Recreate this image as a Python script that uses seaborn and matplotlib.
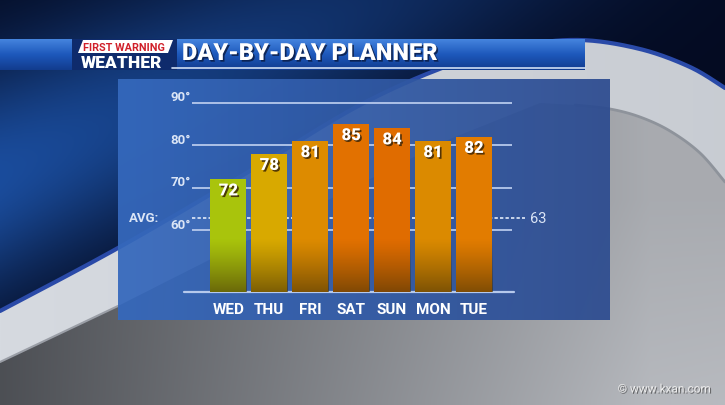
import numpy as np
import pandas as pd
import matplotlib
matplotlib.use("Agg")
import matplotlib.pyplot as plt
import seaborn as sns
from matplotlib.patches import Polygon, Rectangle
from matplotlib.colors import to_rgb
import matplotlib.patheffects as pe
import matplotlib.transforms as mtransforms

# ---------------- data ----------------
days = ["WED", "THU", "FRI", "SAT", "SUN", "MON", "TUE"]
highs = [72, 78, 81, 85, 84, 81, 82]
bar_colors = ["#a9c40c", "#d8a900", "#dd8b00", "#e27100", "#e06c00", "#db8a00", "#e27c00"]
grid_temps = [60, 70, 80, 90]
grid_labels = ["60°", "70°", "80°", "90°"]
avg_temp = 63
avg_label = "AVG:"
title = "DAY-BY-DAY PLANNER"
logo_top = "FIRST WARNING"
logo_bottom = "WEATHER"
watermark = "© www.kxan.com"

sns.set_style("white")
plt.rcParams['font.family'] = ['Roboto', 'DejaVu Sans']

W, H = 725, 406
fig = plt.figure(figsize=(W / 100, H / 100), dpi=100)


def smooth(pts, n=24):
    """Catmull-Rom curve through decorative control points."""
    P = np.array(pts, dtype=float)
    P = np.vstack([P[0], P, P[-1]])
    out = []
    for i in range(1, len(P) - 2):
        p0, p1, p2, p3 = P[i - 1], P[i], P[i + 1], P[i + 2]
        for s in np.linspace(0, 1, n, endpoint=False):
            s2, s3 = s * s, s * s * s
            out.append(0.5 * ((2 * p1) + (-p0 + p2) * s + (2 * p0 - 5 * p1 + 4 * p2 - p3) * s2
                              + (-p0 + 3 * p1 - 3 * p2 + p3) * s3))
    out.append(P[-2])
    return [tuple(q) for q in out]


# ---------------- background (pixel coordinates) ----------------
bg = fig.add_axes([0, 0, 1, 1])
bg.set_xlim(0, W)
bg.set_ylim(H, 0)
bg.axis('off')

yy, xx = np.mgrid[0:H:2, 0:W:2].astype(float)
l = 0.30 + 0.36 * np.clip(xx / 650, 0, 1) + 0.06 * np.clip((yy - 200) / 200, 0, 1) * np.clip(xx / 725, 0, 1)
l = np.clip(l, 0.28, 0.72)
grey = np.dstack([l, l + 0.01, l + 0.03])
bg.imshow(np.clip(grey, 0, 1), extent=[0, W, H, 0], aspect='auto', zorder=0)

outer = smooth([(0, 312), (118, 249), (250, 172), (360, 106), (450, 66), (520, 47),
                (580, 41), (640, 50), (690, 68), (725, 89)])
inner_right = smooth([(725, 183), (700, 154), (670, 132), (640, 118), (610, 110), (575, 106)])
inner_left = [(540, 104), (450, 140), (300, 215), (118, 307), (0, 363)]
inner = inner_right + inner_left
band = Polygon(outer + inner, closed=True, facecolor='none', edgecolor='none', zorder=1)
bg.add_patch(band)
bc = np.array(to_rgb('#d6dae0'))
bd = np.array(to_rgb('#b4b8bf'))
tb = np.clip(xx / W, 0, 1)[..., None] * 0.4
band_img = bc * (1 - tb) + bd * tb
bim = bg.imshow(band_img, extent=[0, W, H, 0], aspect='auto', zorder=1)
bim.set_clip_path(band)
bg.plot([p[0] for p in inner_left[-2:]], [p[1] for p in inner_left[-2:]], color='#9a9ea6', lw=1.5, zorder=1.1)
bg.plot([p[0] for p in inner_right], [p[1] for p in inner_right], color='#8e939b', lw=2, zorder=1.1)

blue_poly = Polygon([(0, 0), (W, 0)] + outer[::-1], closed=True, facecolor='none',
                    edgecolor='none', zorder=1.2)
bg.add_patch(blue_poly)
c_hi = np.array(to_rgb('#1a4c9c'))
c_lo = np.array(to_rgb('#040b22'))
dist = (yy + 0.45 * xx - 175) / 120
bright = np.exp(-dist ** 2) * np.clip(1 - xx / 800, 0, 1)
bright = bright[..., None]
blue_img = c_lo * (1 - bright) + c_hi * bright
im = bg.imshow(blue_img, extent=[0, W, H, 0], aspect='auto', zorder=1.2)
im.set_clip_path(blue_poly)
bg.plot([p[0] for p in outer], [p[1] for p in outer], color='#2a4aa8', lw=3, zorder=1.3)

# chart panel
pc0 = np.array(to_rgb('#3669bd'))
pc1 = np.array(to_rgb('#2d4c90'))
tx = np.linspace(0, 1, 200)[None, :, None]
panel_img = pc0 * (1 - tx) + pc1 * tx
bg.imshow(np.concatenate([panel_img, np.full((1, 200, 1), 0.94)], axis=2),
          extent=[118, 610, 321, 80], aspect='auto', zorder=2)

# banner
ty = np.linspace(0, 1, 60)[:, None, None]
b0 = np.array(to_rgb('#4584de'))
b1 = np.array(to_rgb('#1d58bb'))
b2 = np.array(to_rgb('#123c8e'))
ban = np.where(ty < 0.5, b0 * (1 - ty * 2) + b1 * (ty * 2), b1 * (1 - (ty - 0.5) * 2) + b2 * ((ty - 0.5) * 2))
ban = np.repeat(ban, 2, axis=1)
bg.imshow(ban, extent=[0, 585, 71, 40], aspect='auto', zorder=3)
bg.add_patch(Rectangle((72, 40), 105, 31, facecolor='#0f2b6c', edgecolor='none', zorder=3.1))
bg.plot([172, 585], [69, 69], color='#d0def4', lw=1.2, zorder=3.2)
bg.add_patch(Polygon([(83, 41), (173, 41), (168, 54), (78, 54)], closed=True,
                     facecolor='white', edgecolor='none', zorder=3.3))
bg.text(124, 47.8, logo_top, color='#d0202a', fontsize=7.8, fontweight='bold',
        ha='center', va='center', zorder=3.4)
bg.text(122, 62.5, logo_bottom, color='white', fontsize=12.5, fontweight='heavy',
        ha='center', va='center', zorder=3.4)
shadow = [pe.withSimplePatchShadow(offset=(1.2, -1.2), shadow_rgbFace='#0a1a40', alpha=0.8)]
bg.text(182, 54.5, title, color='white', fontsize=17, fontweight='heavy',
        ha='left', va='center', zorder=3.4, path_effects=shadow)

# ---------------- chart ----------------
y_floor = 45.5
ax = fig.add_axes([192 / W, (H - 293) / H, 320 / W, 190 / H])
ax.patch.set_visible(False)
df = pd.DataFrame({"day": days, "high": highs})
sns.barplot(data=df, x="day", y="high", hue="day", palette=bar_colors, width=0.88,
            saturation=1, legend=False, ax=ax, zorder=2, edgecolor='none', linewidth=0)
ax.set_xlim(-0.89, 6.93)
ax.set_ylim(y_floor, 90.2)

grid_c = '#b6c9ec'
for tv in grid_temps:
    ax.axhline(tv, color=grid_c, lw=1.3, zorder=0.5)
ax.axhline(y_floor, xmin=-0.025, xmax=1.005, color=grid_c, lw=1.6, zorder=0.5, clip_on=False)
ax.axhline(avg_temp, xmin=0, xmax=1.04, color='#e2eaf8', lw=1.2, ls=(0, (2, 1.3)),
           zorder=0.6, clip_on=False)

# darkening gradient at the bottom of each bar
grad = np.zeros((100, 1, 4))
grad[..., 0] = 0.27
grad[..., 1] = 0.19
grad[..., 2] = 0.03
grad[:, 0, 3] = np.linspace(0, 1, 100) ** 1.2 * 0.62
for p in ax.patches:
    x0 = p.get_x()
    x1 = x0 + p.get_width()
    gi = ax.imshow(grad, extent=[x0, x1, y_floor, 58], aspect='auto', zorder=2.1)
    gi.set_clip_path(p)
ax.set_xlim(-0.89, 6.93)
ax.set_ylim(y_floor, 90.2)

val_shadow = [pe.withSimplePatchShadow(offset=(1.2, -1.2), shadow_rgbFace='#3a2406', alpha=0.85)]
for i, v in enumerate(highs):
    ax.text(i, v - 2.6, str(v), ha='center', va='center', color='white', fontsize=12,
            fontweight='heavy', zorder=3, path_effects=val_shadow)

trans = mtransforms.blended_transform_factory(ax.transAxes, ax.transData)
up = mtransforms.ScaledTranslation(0, 6 / 100, fig.dpi_scale_trans)
label_c = '#dbe5f6'
for tv, lab in zip(grid_temps, grid_labels):
    ax.text(-0.002, tv, lab, transform=trans + up, ha='right', va='center',
            fontsize=9.5, color=label_c, fontweight='semibold')
ax.text(-0.103, avg_temp, avg_label, transform=trans, ha='right', va='center',
        fontsize=9.5, color=label_c, fontweight='bold')
ax.text(1.056, avg_temp, str(avg_temp), transform=trans, ha='left', va='center',
        fontsize=10.5, color=label_c)

ax.set_yticks([])
ax.set_xlabel('')
ax.set_ylabel('')
ax.tick_params(axis='x', length=0, pad=7, labelsize=11, labelcolor='white')
for lab in ax.get_xticklabels():
    lab.set_fontweight('bold')
for s in ax.spines.values():
    s.set_visible(False)

fig.text(664 / W, 1 - 390 / H, watermark, ha='center', va='center', fontsize=8.5,
         color='#ececec', path_effects=[pe.withSimplePatchShadow(offset=(0.8, -0.8),
                                                                 shadow_rgbFace='#333', alpha=0.6)])

fig.savefig('out.png', dpi=100)
